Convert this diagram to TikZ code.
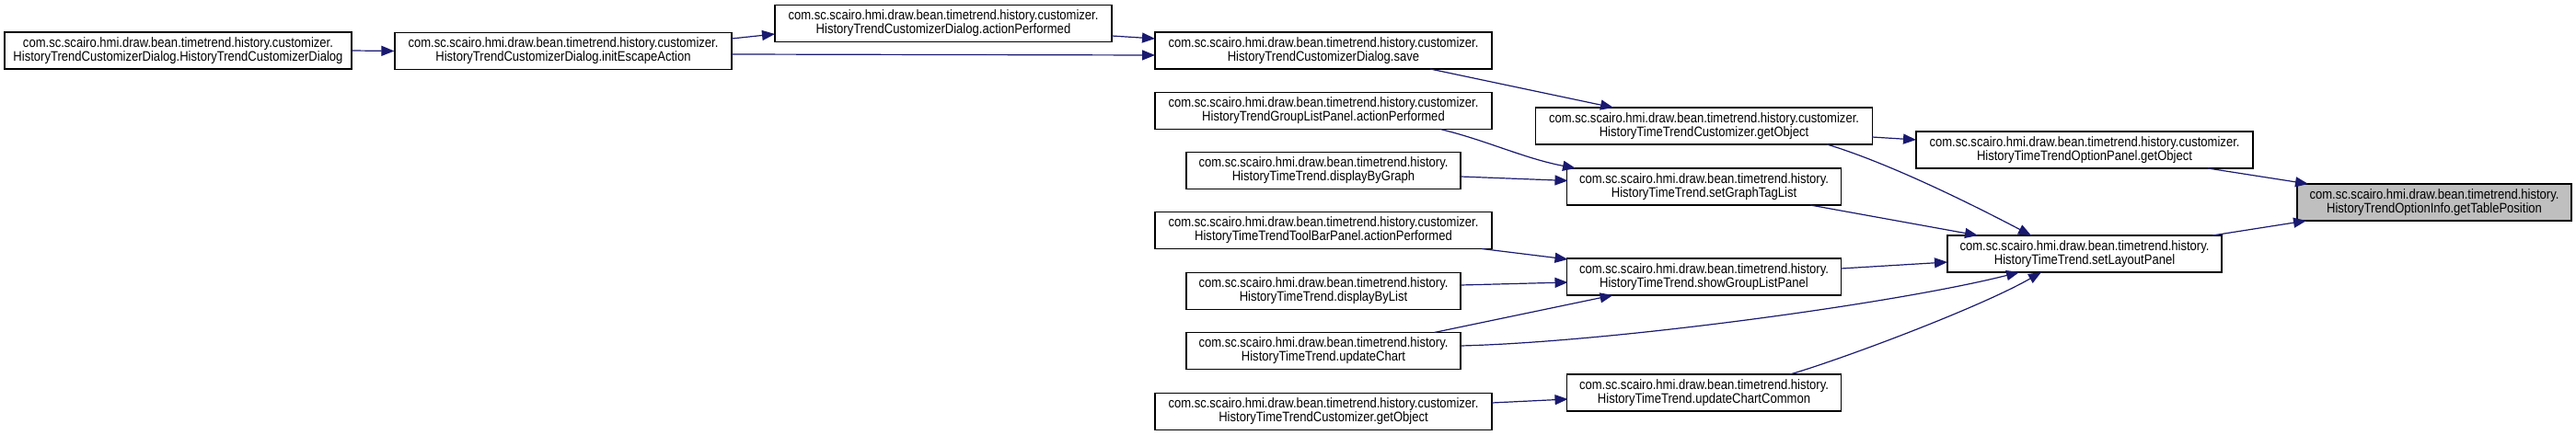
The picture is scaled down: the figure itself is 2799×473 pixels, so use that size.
\documentclass[tikz,border=0pt]{standalone}
\usepackage{fontspec}
\setmainfont{Liberation Sans}[FakeStretch=0.87]
\usetikzlibrary{arrows.meta}
\definecolor{edgeblue}{RGB}{25,25,112}
\definecolor{hlgray}{RGB}{191,191,191}
\newcommand\pkgcust{com.sc.scairo.hmi.draw.bean.timetrend.history.customizer.}
\newcommand\pkghist{com.sc.scairo.hmi.draw.bean.timetrend.history.}
\begin{document}
\begin{tikzpicture}[x=1pt,y=-1pt,
  fn/.style={draw=black, line width=1.2pt, fill=white, minimum height=40pt, inner sep=0pt,
             align=center, font=\fontsize{15}{15}\selectfont},
  wide/.style={minimum width=366pt},
  narrow/.style={minimum width=298pt},
  call/.style={draw=edgeblue, line width=1.2pt, -{Triangle[length=14pt,width=11pt]}}]
\fill[white] (0,0) rectangle (2799,473);
\useasboundingbox (0,0) rectangle (2799,473);

% nodes
\node[fn, minimum width=377pt] (A) at (193.5,55) {\pkgcust\\HistoryTrendCustomizerDialog.HistoryTrendCustomizerDialog};
\node[fn, wide] (B) at (612,55.5) {\pkgcust\\HistoryTrendCustomizerDialog.initEscapeAction};
\node[fn, wide] (C) at (1025,25.5) {\pkgcust\\HistoryTrendCustomizerDialog.actionPerformed};
\node[fn, wide] (D) at (1438,55) {\pkgcust\\HistoryTrendCustomizerDialog.save};
\node[fn, wide] (E) at (1438,120.5) {\pkgcust\\HistoryTrendGroupListPanel.actionPerformed};
\node[fn, narrow] (F) at (1438,185.5) {\pkghist\\HistoryTimeTrend.displayByGraph};
\node[fn, wide] (G) at (1438,250.5) {\pkgcust\\HistoryTimeTrendToolBarPanel.actionPerformed};
\node[fn, narrow] (H) at (1438,316.5) {\pkghist\\HistoryTimeTrend.displayByList};
\node[fn, narrow] (I) at (1438,381.5) {\pkghist\\HistoryTimeTrend.updateChart};
\node[fn, wide] (J) at (1438,447.5) {\pkgcust\\HistoryTimeTrendCustomizer.getObject};
\node[fn, wide] (K) at (1851.5,137) {\pkgcust\\HistoryTimeTrendCustomizer.getObject};
\node[fn, narrow] (L) at (1851.5,203) {\pkghist\\HistoryTimeTrend.setGraphTagList};
\node[fn, narrow] (O) at (1851.5,301) {\pkghist\\HistoryTimeTrend.showGroupListPanel};
\node[fn, narrow] (P) at (1851.5,427) {\pkghist\\HistoryTimeTrend.updateChartCommon};
\node[fn, wide] (M) at (2265,163) {\pkgcust\\HistoryTimeTrendOptionPanel.getObject};
\node[fn, narrow] (Q) at (2265,276) {\pkghist\\HistoryTimeTrend.setLayoutPanel};
\node[fn, narrow, fill=hlgray] (N) at (2645,220) {\pkghist\\HistoryTrendOptionInfo.getTablePosition};

% edges
\draw[call] (A.east) -- (B.west);
\draw[call] ([shift={(183,-13.5)}]B.center) -- ([shift={(-183,11.5)}]C.center);
\draw[call] ([shift={(183,3.5)}]B.center) -- ([shift={(-183,5)}]D.center);
\draw[call] ([shift={(183,13.5)}]C.center) -- ([shift={(-183,-13)}]D.center);
\draw[call] ([shift={(116,20)}]D.center) -- ([shift={(-98.5,-20)}]K.center);
\draw[call] ([shift={(182.5,12)}]K.center) -- ([shift={(-183,-11)}]M.center);
\draw[call] ([shift={(133.5,20)}]K.center) .. controls +(60,18) and +(-80,-42) .. ([shift={(-58,-20)}]Q.center);
\draw[call] ([shift={(134,20)}]M.center) -- ([shift={(-137,-20)}]N.center);
\draw[call] ([shift={(139,-20)}]Q.center) -- ([shift={(-139,20)}]N.center);
\draw[call] ([shift={(127,20)}]E.center) .. controls +(50,12) and +(-57,-11) .. ([shift={(-139.5,-20)}]L.center);
\draw[call] ([shift={(149,6.5)}]F.center) -- ([shift={(-148,-6.5)}]L.center);
\draw[call] ([shift={(115.5,20)}]L.center) -- ([shift={(-116,-20)}]Q.center);
\draw[call] ([shift={(148.5,-9)}]O.center) -- ([shift={(-149,9)}]Q.center);
\draw[call] ([shift={(172,20)}]G.center) -- ([shift={(-148,-19)}]O.center);
\draw[call] ([shift={(149,-6.5)}]H.center) -- ([shift={(-148,6)}]O.center);
\draw[call] ([shift={(120.5,-20)}]I.center) -- ([shift={(-99,20)}]O.center);
\draw[call] ([shift={(149,-5.5)}]I.center) .. controls +(163,-4) and +(-134,34) .. ([shift={(-71,20)}]Q.center);
\draw[call] ([shift={(93.5,-20)}]P.center) .. controls +(55,-16) and +(-68,39) .. ([shift={(-47,20)}]Q.center);
\draw[call] ([shift={(183,-9.5)}]J.center) -- ([shift={(-148,7)}]P.center);
\end{tikzpicture}
\end{document}
